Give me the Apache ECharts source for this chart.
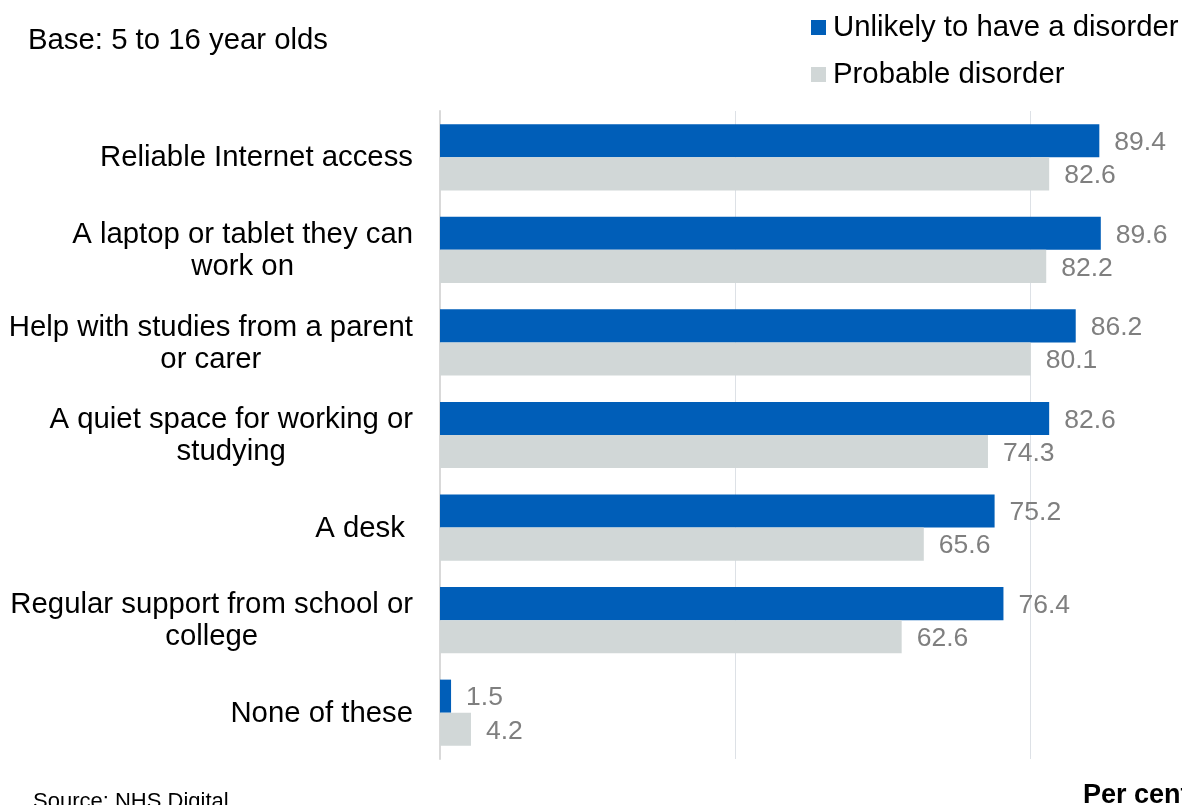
<!DOCTYPE html>
<html>
<head>
<meta charset="utf-8">
<script src="https://cdn.jsdelivr.net/npm/echarts@6/dist/echarts.min.js"></script>
<style>
html,body{margin:0;padding:0;background:#fff;}
#chart{width:1182px;height:805px;}
</style>
</head>
<body>
<div id="chart"></div>
<script>
const categories = [
  "Reliable Internet access",
  "A laptop or tablet they can\nwork on",
  "Help with studies from a parent\nor carer",
  "A quiet space for working or\nstudying",
  "A desk ",
  "Regular support from school or\ncollege",
  "None of these"
];
const seriesNames = ["Unlikely to have a disorder", "Probable disorder"];
const unlikely = [89.4, 89.6, 86.2, 82.6, 75.2, 76.4, 1.5];
const probable = [82.6, 82.2, 80.1, 74.3, 65.6, 62.6, 4.2];

const FONT = "'Liberation Sans', Arial, sans-serif";
const chart = echarts.init(document.getElementById('chart'), null, {renderer: 'canvas'});

const valueLabel = {
  show: true,
  position: 'right',
  distance: 15,
  offset: [0, 2],
  color: '#7f7f7f',
  fontSize: 26.5,
  fontFamily: FONT,
  formatter: p => p.value.toFixed(1)
};

chart.setOption({
  animation: false,
  backgroundColor: '#fff',
  textStyle: {fontFamily: FONT},
  legend: {
    orient: 'vertical',
    left: 811,
    top: 13,
    padding: 0,
    itemWidth: 15,
    itemHeight: 15,
    itemGap: 18,
    icon: 'rect',
    textStyle: {fontSize: 29.33, color: '#000', fontFamily: FONT, padding: [0, 0, 0, 2]},
    data: seriesNames
  },
  grid: {left: 440, right: 4.5, top: 111, bottom: 46, containLabel: false},
  xAxis: {
    type: 'value',
    min: 0, max: 100, interval: 40,
    axisLabel: {show: false},
    axisLine: {show: false},
    axisTick: {show: false},
    splitLine: {show: true, showMaxLine: false, lineStyle: {color: '#dde1e6', width: 1}}
  },
  yAxis: {
    type: 'category',
    inverse: true,
    data: categories,
    axisLine: {show: true, lineStyle: {color: '#d9d9d9', width: 2}},
    axisTick: {show: false},
    axisLabel: {
      margin: 27,
      color: '#000',
      fontSize: 29.33,
      fontFamily: FONT,
      formatter: v => v.split('\n').map(s => '{c|' + s + '}').join('\n'),
      rich: {c: {align: 'center', fontSize: 29.33, lineHeight: 32, color: '#000', fontFamily: FONT, padding: [2, 0, 0, 0]}}
    }
  },
  series: [
    {
      name: seriesNames[0], type: 'bar', data: unlikely,
      itemStyle: {color: '#005EB8'},
      barGap: '0%', barCategoryGap: '28.5%',
      label: valueLabel
    },
    {
      name: seriesNames[1], type: 'bar', data: probable,
      itemStyle: {color: '#D1D7D7'},
      barGap: '0%', barCategoryGap: '28.5%',
      label: valueLabel
    }
  ],
  graphic: [
    {type: 'text', left: 28, top: 26, style: {text: 'Base: 5 to 16 year olds', fontSize: 29.33, fill: '#000', fontFamily: FONT}},
    {type: 'text', left: 33, top: 791, style: {text: 'Source: NHS Digital', fontSize: 22, fill: '#000', fontFamily: FONT}},
    {type: 'text', left: 1083, top: 782, style: {text: 'Per cent', fontSize: 27, fontWeight: 'bold', fill: '#000', fontFamily: FONT}}
  ]
});
</script>
</body>
</html>
